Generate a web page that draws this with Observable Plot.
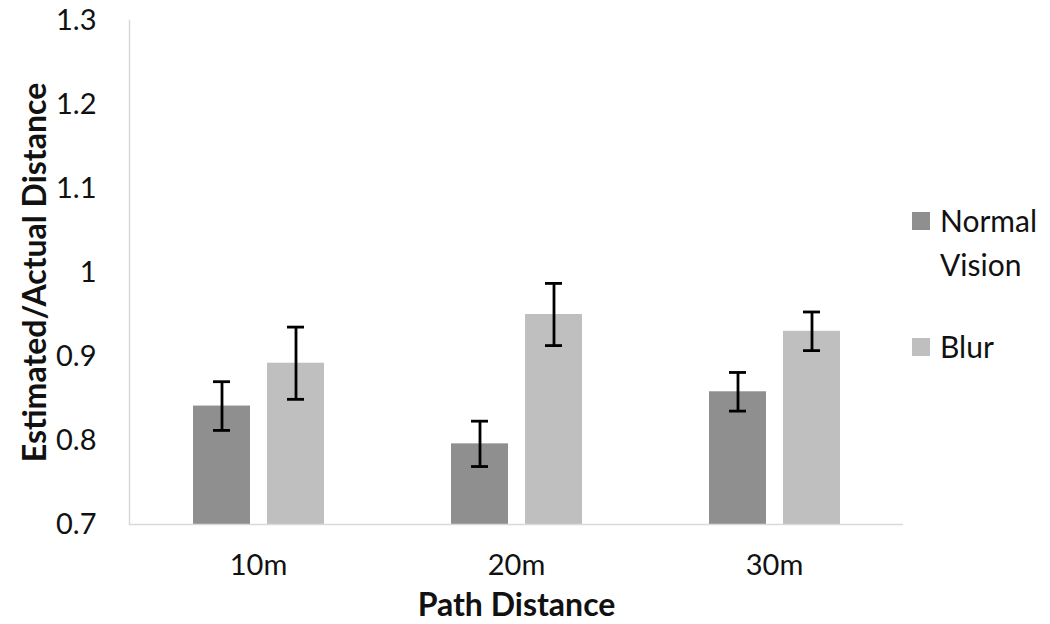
<!DOCTYPE html>
<html>
<head>
<meta charset="utf-8">
<script src="https://cdn.jsdelivr.net/npm/d3@7"></script>
<script src="https://cdn.jsdelivr.net/npm/@observablehq/plot@0.6"></script>
<style>
  body { margin: 0; background: #fff; }
  #wrap { position: relative; width: 1050px; height: 624px; font-family: Lato, "Open Sans", sans-serif; }
  #legend { position: absolute; left: 912px; top: 198px; font-size: 30px; color: #111; line-height: 44px; }
  .item { display: flex; align-items: flex-start; margin-bottom: 38px; }
  .sw { width: 18px; height: 18px; margin-top: 14px; margin-right: 10px; flex: none; }
</style>
</head>
<body>
<div id="wrap"><div id="chart"></div><div id="legend"></div></div>
<script>
const categories = ["10m", "20m", "30m"];
const series = ["Normal Vision", "Blur"];
const normalValues = [0.841, 0.796, 0.858];
const normalErrors = [0.029, 0.027, 0.023];
const blurValues = [0.892, 0.950, 0.930];
const blurErrors = [0.043, 0.037, 0.023];
const colors = ["#8f8f8f", "#bfbfbf"];
const yTicks = [0.7, 0.8, 0.9, 1.0, 1.1, 1.2, 1.3];
const yTickLabels = ["0.7", "0.8", "0.9", "1", "1.1", "1.2", "1.3"];

const data = [];
categories.forEach((c, i) => {
  data.push({cat: c, series: series[0], value: normalValues[i], err: normalErrors[i]});
  data.push({cat: c, series: series[1], value: blurValues[i], err: blurErrors[i]});
});

const chart = Plot.plot({
  width: 1050,
  height: 624,
  marginLeft: 129,
  marginRight: 147,
  marginTop: 20,
  marginBottom: 100,
  style: {fontFamily: "Lato, 'Open Sans', sans-serif", fontSize: "22px", color: "#111", background: "#fff"},
  fx: {domain: categories, padding: 0, axis: null},
  x: {domain: series, paddingInner: 0.23, paddingOuter: 0.858, axis: null},
  y: {domain: [0.7, 1.3], axis: null},
  color: {domain: series, range: colors},
  marks: [
    Plot.barY(data, {fx: "cat", x: "series", y1: 0.7, y2: "value", fill: "series"}),
    Plot.ruleX(data, {fx: "cat", x: "series", y1: d => d.value - d.err, y2: d => d.value + d.err, stroke: "#000", strokeWidth: 2.8}),
    Plot.tickY(data, {fx: "cat", x: "series", y: d => d.value + d.err, stroke: "#000", strokeWidth: 2.8, insetLeft: 20, insetRight: 20}),
    Plot.tickY(data, {fx: "cat", x: "series", y: d => d.value - d.err, stroke: "#000", strokeWidth: 2.8, insetLeft: 20, insetRight: 20}),
    Plot.ruleY([0.7], {stroke: "#d9d9d9", strokeWidth: 1.5}),
    Plot.frame({anchor: "left", facetAnchor: "left", stroke: "#d9d9d9", strokeWidth: 1.5}),
    Plot.axisY({ticks: yTicks, tickFormat: d => yTickLabels[yTicks.findIndex(t => Math.abs(t - d) < 1e-9)], tickSize: 0, tickPadding: 33, label: null, fontSize: 29}),
    Plot.axisY({ticks: [], label: "Estimated/Actual Distance", labelArrow: "none", labelAnchor: "center", labelOffset: 106, fontWeight: "bold", fontSize: 32}),
    Plot.axisFx({anchor: "bottom", tickSize: 0, tickPadding: 30, label: null, fontSize: 29}),
    Plot.axisFx({anchor: "bottom", ticks: [], label: "Path Distance", labelArrow: "none", labelAnchor: "center", labelOffset: 91, fontWeight: "bold", fontSize: 32})
  ]
});
document.getElementById("chart").appendChild(chart);

const legend = document.getElementById("legend");
series.forEach((s, i) => {
  const item = document.createElement("div");
  item.className = "item";
  const sw = document.createElement("div");
  sw.className = "sw";
  sw.style.background = colors[i];
  const label = document.createElement("div");
  label.innerHTML = s === "Normal Vision" ? "Normal<br>Vision" : s;
  item.appendChild(sw);
  item.appendChild(label);
  legend.appendChild(item);
});
</script>
</body>
</html>
